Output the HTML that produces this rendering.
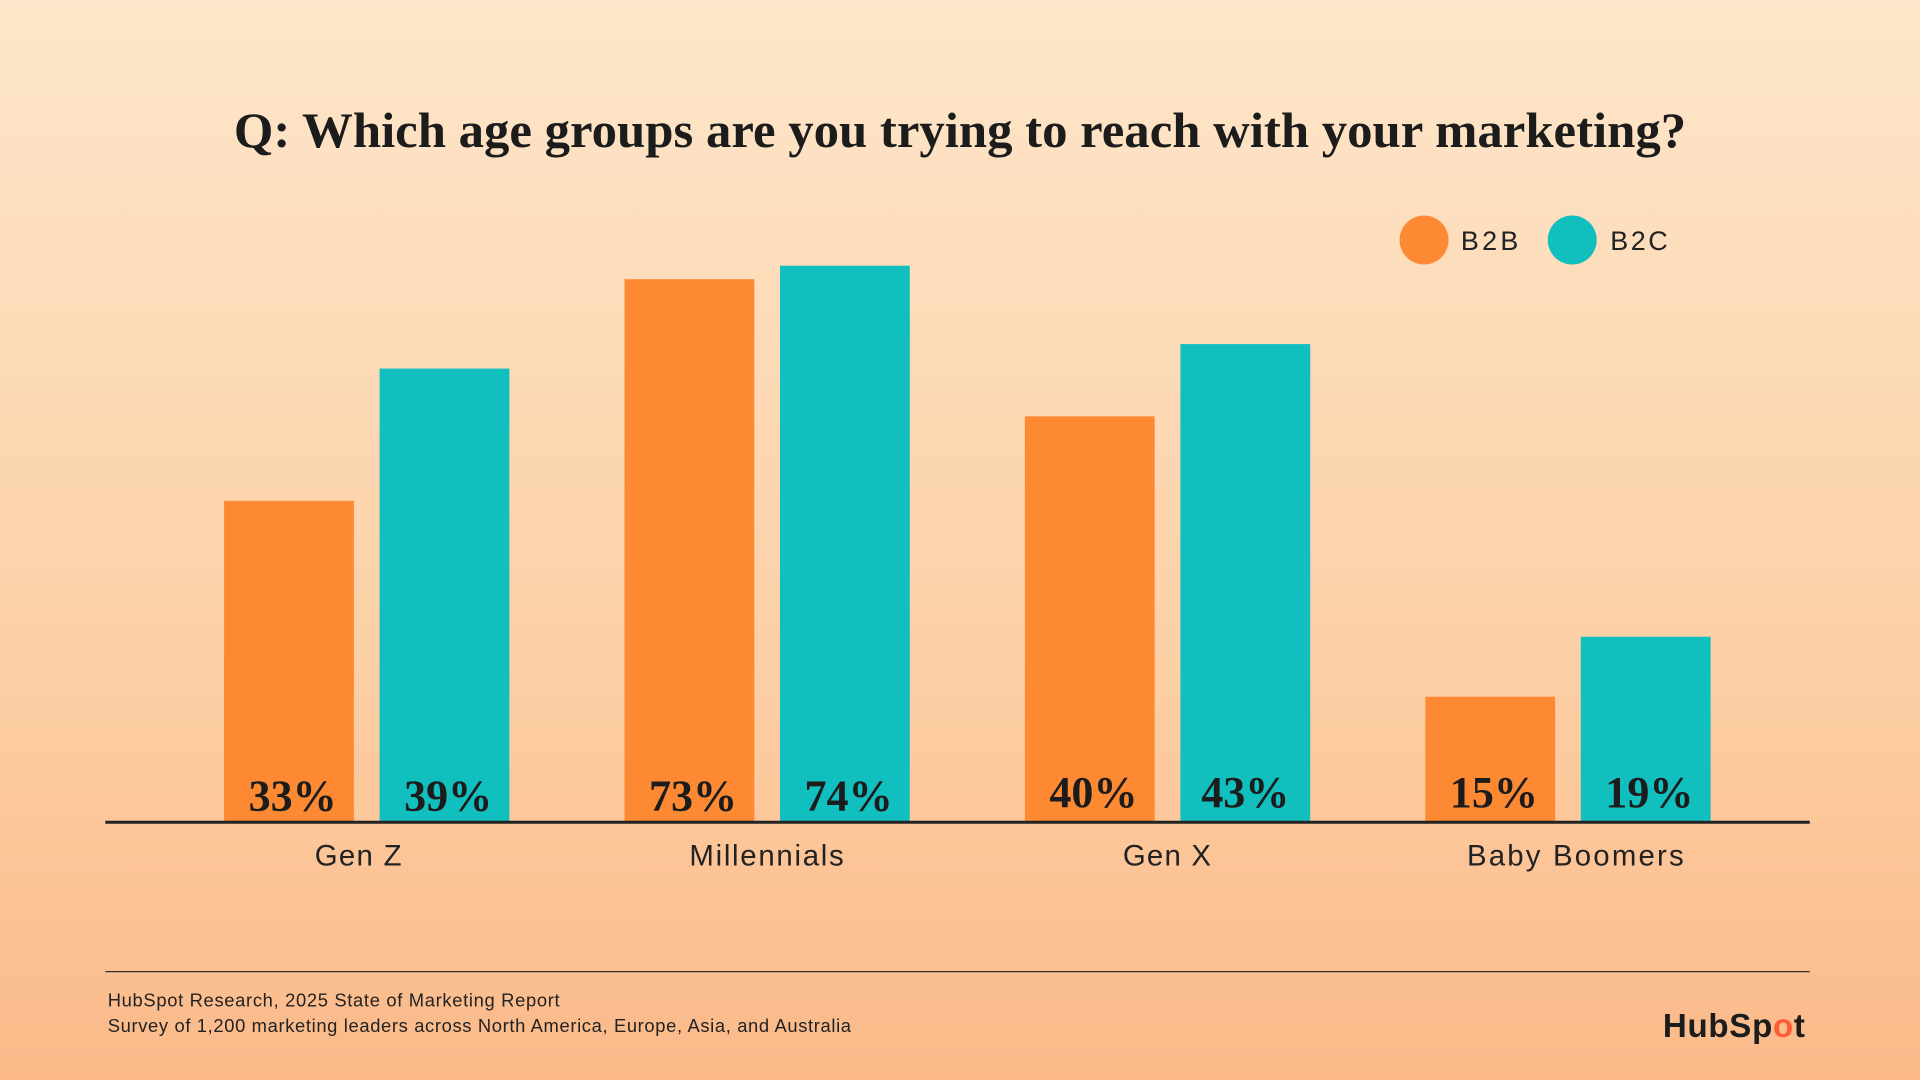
<!DOCTYPE html>
<html><head><meta charset="utf-8"><style>
html,body{margin:0;padding:0;width:1920px;height:1080px;overflow:hidden}
body{background:linear-gradient(#fde6cb,#fcd0a6 60%,#fbb989)}
svg{display:block}
.s{font-family:"Liberation Serif",serif;font-weight:bold;fill:#1c1c1c}
.a{font-family:"Liberation Sans",sans-serif;fill:#222}
</style></head><body>
<svg width="1920" height="1080" viewBox="0 0 1568 882">
<text class="s" x="191" y="120" font-size="41" textLength="1186" lengthAdjust="spacingAndGlyphs">Q: Which age groups are you trying to reach with your marketing?</text>
<circle cx="1163" cy="196" r="20" fill="#fd8a33"/>
<text class="a" x="1193" y="204" font-size="22" textLength="47">B2B</text>
<circle cx="1284" cy="196" r="20" fill="#12bfbf"/>
<text class="a" x="1315" y="204" font-size="22" textLength="47">B2C</text>
<g fill="#fd8a33">
<rect x="183" y="409" width="106" height="262"/>
<rect x="510" y="228" width="106" height="443"/>
<rect x="837" y="340" width="106" height="331"/>
<rect x="1164" y="569" width="106" height="102"/>
</g>
<g fill="#12bfbf">
<rect x="310" y="301" width="106" height="370"/>
<rect x="637" y="217" width="106" height="454"/>
<rect x="964" y="281" width="106" height="390"/>
<rect x="1291" y="520" width="106" height="151"/>
</g>
<g class="s" font-size="36" text-anchor="middle">
<text x="239" y="662">33%</text><text x="366" y="662">39%</text>
<text x="566" y="662">73%</text><text x="693" y="662">74%</text>
<text x="893" y="659">40%</text><text x="1017" y="659">43%</text>
<text x="1220" y="659">15%</text><text x="1347" y="659">19%</text>
</g>
<line x1="86" y1="671.5" x2="1478" y2="671.5" stroke="#222" stroke-width="2.5"/>
<g class="a" font-size="24">
<text x="257" y="707" textLength="71">Gen Z</text><text x="563" y="707" textLength="126">Millennials</text>
<text x="917" y="707" textLength="72">Gen X</text><text x="1198" y="707" textLength="177">Baby Boomers</text>
</g>
<line x1="86" y1="793.5" x2="1478" y2="793.5" stroke="#333" stroke-width="1"/>
<text class="a" x="88" y="822" font-size="15" textLength="369">HubSpot Research, 2025 State of Marketing Report</text>
<text class="a" x="88" y="843" font-size="15" textLength="607">Survey of 1,200 marketing leaders across North America, Europe, Asia, and Australia</text>
<text x="1358" y="847" font-family="Liberation Sans,sans-serif" font-weight="bold" font-size="27" fill="#1c1c1c" letter-spacing="-1" textLength="115">HubSp<tspan fill="#ff5c35">o</tspan>t</text>
</svg>
</body></html>
